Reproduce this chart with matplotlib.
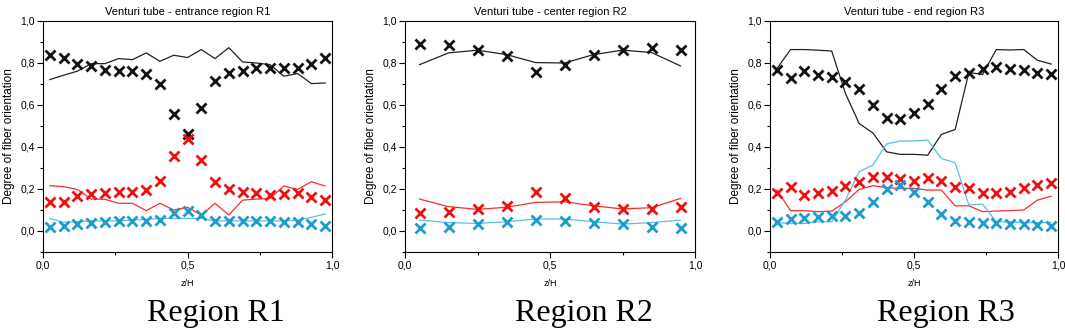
import numpy as np
import matplotlib
matplotlib.use("Agg")
import matplotlib.pyplot as plt
from matplotlib.ticker import MultipleLocator, FuncFormatter

# ---------------- data ----------------
titles = ["Venturi tube - entrance region R1",
          "Venturi tube - center region R2",
          "Venturi tube - end region R3"]
region_labels = ["Region R1", "Region R2", "Region R3"]

x_r1 = [(i + 0.5) / 21 for i in range(21)]
x_r2 = [0.05, 0.15, 0.25, 0.35, 0.45, 0.55, 0.65, 0.75, 0.85, 0.95]
x_r3 = [(i + 0.5) / 21 for i in range(21)]

# Region R1 measured (markers)
r1_black_pts = [0.837, 0.826, 0.797, 0.784, 0.769, 0.761, 0.761, 0.750, 0.702, 0.559, 0.464,
                0.586, 0.713, 0.753, 0.762, 0.777, 0.777, 0.777, 0.777, 0.797, 0.826]
r1_red_pts = [0.139, 0.139, 0.166, 0.176, 0.182, 0.187, 0.187, 0.195, 0.238, 0.357, 0.436,
              0.338, 0.231, 0.198, 0.184, 0.179, 0.171, 0.176, 0.179, 0.163, 0.147]
r1_cyan_pts = [0.017, 0.025, 0.033, 0.040, 0.044, 0.048, 0.049, 0.049, 0.052, 0.084, 0.097,
               0.076, 0.049, 0.048, 0.048, 0.048, 0.048, 0.044, 0.041, 0.032, 0.024]
# Region R1 simulated (lines)
r1_black_line = [0.721, 0.742, 0.761, 0.797, 0.797, 0.821, 0.816, 0.848, 0.808, 0.837, 0.826,
                 0.864, 0.821, 0.873, 0.805, 0.800, 0.792, 0.737, 0.750, 0.702, 0.705]
r1_red_line = [0.216, 0.211, 0.198, 0.152, 0.151, 0.132, 0.132, 0.097, 0.132, 0.100, 0.113,
               0.076, 0.132, 0.076, 0.147, 0.152, 0.155, 0.214, 0.198, 0.235, 0.214]
r1_cyan_line = [0.060, 0.041, 0.044, 0.048, 0.048, 0.048, 0.052, 0.055, 0.060, 0.060, 0.060,
                0.060, 0.048, 0.048, 0.048, 0.048, 0.048, 0.048, 0.052, 0.065, 0.081]

# Region R2
r2_black_pts = [0.892, 0.887, 0.861, 0.832, 0.757, 0.792, 0.837, 0.864, 0.873, 0.864]
r2_red_pts = [0.087, 0.089, 0.103, 0.120, 0.184, 0.155, 0.116, 0.103, 0.103, 0.116]
r2_cyan_pts = [0.016, 0.021, 0.032, 0.041, 0.052, 0.049, 0.040, 0.032, 0.021, 0.013]
r2_black_line = [0.792, 0.848, 0.861, 0.840, 0.802, 0.800, 0.840, 0.861, 0.850, 0.786]
r2_red_line = [0.152, 0.116, 0.103, 0.113, 0.136, 0.139, 0.120, 0.105, 0.111, 0.155]
r2_cyan_line = [0.052, 0.040, 0.036, 0.044, 0.057, 0.057, 0.044, 0.033, 0.040, 0.052]

# Region R3
r3_black_pts = [0.765, 0.729, 0.761, 0.745, 0.734, 0.710, 0.678, 0.602, 0.540, 0.532, 0.564,
                0.607, 0.678, 0.737, 0.754, 0.773, 0.781, 0.773, 0.765, 0.753, 0.750]
r3_red_pts = [0.182, 0.208, 0.171, 0.182, 0.190, 0.216, 0.235, 0.258, 0.258, 0.247, 0.238,
              0.254, 0.238, 0.211, 0.203, 0.182, 0.182, 0.187, 0.203, 0.219, 0.227]
r3_cyan_pts = [0.044, 0.057, 0.063, 0.068, 0.071, 0.071, 0.084, 0.139, 0.198, 0.219, 0.187,
               0.136, 0.079, 0.048, 0.041, 0.040, 0.036, 0.033, 0.032, 0.029, 0.024]
r3_black_line = [0.773, 0.864, 0.864, 0.861, 0.857, 0.655, 0.512, 0.467, 0.377, 0.365, 0.365,
                 0.361, 0.460, 0.483, 0.755, 0.745, 0.864, 0.862, 0.864, 0.813, 0.795]
r3_red_line = [0.195, 0.097, 0.097, 0.092, 0.095, 0.139, 0.198, 0.216, 0.206, 0.203, 0.203,
               0.195, 0.195, 0.120, 0.120, 0.092, 0.095, 0.097, 0.100, 0.147, 0.166]
r3_cyan_line = [0.040, 0.036, 0.036, 0.044, 0.044, 0.147, 0.282, 0.314, 0.414, 0.429, 0.429,
                0.433, 0.345, 0.325, 0.124, 0.128, 0.044, 0.044, 0.040, 0.040, 0.040]

panels = [
    (x_r1, r1_black_pts, r1_red_pts, r1_cyan_pts, r1_black_line, r1_red_line, r1_cyan_line),
    (x_r2, r2_black_pts, r2_red_pts, r2_cyan_pts, r2_black_line, r2_red_line, r2_cyan_line),
    (x_r3, r3_black_pts, r3_red_pts, r3_cyan_pts, r3_black_line, r3_red_line, r3_cyan_line),
]

# ---------------- style ----------------
W, H = 1065, 333
fig = plt.figure(figsize=(W / 100, H / 100), dpi=100)
plt.rcParams['font.family'] = ['Liberation Sans', 'DejaVu Sans']

lefts = [43, 405, 770]
widths = [289, 290, 288]
label_cx = [216, 584, 946]
top_px, bot_px = 21, 252

pt_colors = ["#111111", "#ee1111", "#1e9ccc"]
ln_colors = ["#222222", "#ff2a2a", "#5cbfdf"]

comma = FuncFormatter(lambda v, p: f"{v:.1f}".replace(".", ","))

for k, (l, w) in enumerate(zip(lefts, widths)):
    ax = fig.add_axes([l / W, 1 - bot_px / H, w / W, (bot_px - top_px) / H])
    xs, bp, rp, cp, bl, rl, cl = panels[k]
    for ys, c in zip((bl, rl, cl), ln_colors):
        ax.plot(xs, ys, color=c, lw=0.9, zorder=2)
    for ys, c in zip((bp, rp, cp), pt_colors):
        ax.plot(xs, ys, ls="none", marker="x", ms=6.5, mew=2.0, color=c, zorder=3)
    ax.set_xlim(0, 1)
    ax.set_ylim(-0.1, 1.0)
    ax.xaxis.set_major_locator(MultipleLocator(0.5))
    ax.xaxis.set_minor_locator(MultipleLocator(0.25))
    ax.yaxis.set_major_locator(MultipleLocator(0.2))
    ax.yaxis.set_minor_locator(MultipleLocator(0.1))
    ax.xaxis.set_major_formatter(comma)
    ax.yaxis.set_major_formatter(comma)
    ax.tick_params(which="major", direction="out", length=4, width=0.8, labelsize=7.5, pad=2)
    ax.tick_params(which="minor", direction="out", length=2.5, width=0.8)
    for s in ax.spines.values():
        s.set_linewidth(0.8)
    ax.set_title(titles[k], fontsize=8, pad=4)
    ax.set_ylabel("Degree of fiber orientation", fontsize=8.5, labelpad=4)
    ax.set_xlabel("z/H", fontsize=6.5, labelpad=6)
    fig.text(label_cx[k] / W, 1 - 313 / H, region_labels[k], ha="center", va="center",
             fontsize=23, family=["Liberation Serif", "DejaVu Serif"])

fig.savefig("out.png", dpi=100)
